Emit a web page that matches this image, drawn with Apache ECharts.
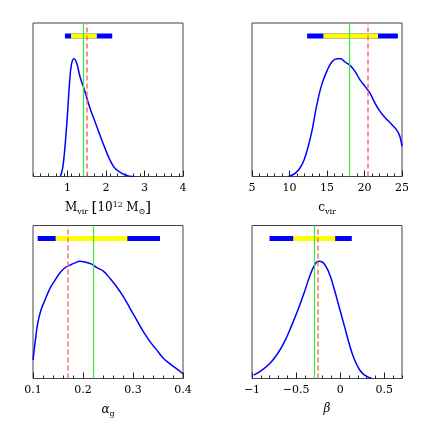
<!DOCTYPE html>
<html>
<head>
<meta charset="utf-8">
<script src="https://cdn.jsdelivr.net/npm/echarts@6/dist/echarts.min.js"></script>
<style>
  html, body { margin: 0; padding: 0; background: #fff; }
  #main { width: 425px; height: 425px; }
</style>
</head>
<body>
<div id="main"></div>
<script>
// M_vir posterior
const mvirX = [0.81, 0.86, 0.9, 0.95, 1.0, 1.05, 1.1, 1.166, 1.236, 1.32, 1.45, 1.58, 1.71, 1.84, 1.97, 2.10, 2.23, 2.41, 2.58, 2.73];
const mvirY = [0, 0.04, 0.11, 0.25, 0.42, 0.61, 0.73, 0.767, 0.739, 0.652, 0.554, 0.446, 0.359, 0.271, 0.185, 0.108, 0.054, 0.02, 0.004, 0];
const mvirOuter = [0.93, 2.16];
const mvirInner = [1.09, 1.76];
const mvirGreen = 1.41;
const mvirRed = 1.50;
const mvirTicks = [1, 2, 3, 4];

// c_vir posterior
const cvirX = [9.87, 10.76, 11.65, 12.31, 12.98, 13.64, 14.31, 14.97, 15.64, 16.3, 16.83, 17.4, 18.07, 18.74, 19.4, 20.07, 20.73, 21.4, 22.06, 22.73, 23.6, 24.28, 24.72, 25.0];
const cvirY = [0, 0.02, 0.076, 0.163, 0.294, 0.467, 0.6, 0.685, 0.746, 0.767, 0.767, 0.746, 0.724, 0.685, 0.63, 0.587, 0.543, 0.478, 0.424, 0.385, 0.341, 0.304, 0.261, 0.196];
const cvirOuter = [12.35, 24.45];
const cvirInner = [14.52, 21.8];
const cvirGreen = 18.03;
const cvirRed = 20.47;
const cvirTicks = [5, 10, 15, 20, 25];

// alpha_g posterior
const alphaX = [0.1, 0.104, 0.1094, 0.116, 0.124, 0.134, 0.144, 0.154, 0.164, 0.174, 0.184, 0.194, 0.204, 0.2173, 0.227, 0.2407, 0.254, 0.2673, 0.2807, 0.294, 0.3073, 0.3207, 0.334, 0.3473, 0.3607, 0.374, 0.3873, 0.4];
const alphaY = [0.122, 0.231, 0.361, 0.448, 0.513, 0.589, 0.643, 0.691, 0.724, 0.741, 0.756, 0.767, 0.761, 0.748, 0.726, 0.702, 0.654, 0.6, 0.535, 0.459, 0.383, 0.306, 0.241, 0.187, 0.133, 0.096, 0.063, 0.031];
const alphaOuter = [0.1093, 0.354];
const alphaInner = [0.1453, 0.2887];
const alphaGreen = 0.2173;
const alphaRed = 0.1653;
const alphaTicks = [0.1, 0.2, 0.3, 0.4];

// beta posterior
const betaX = [-0.98, -0.895, -0.801, -0.707, -0.631, -0.556, -0.48, -0.405, -0.348, -0.292, -0.246, -0.208, -0.159, -0.11, -0.065, -0.008, 0.049, 0.105, 0.162, 0.219, 0.275, 0.358];
const betaY = [0.022, 0.052, 0.096, 0.165, 0.241, 0.339, 0.448, 0.567, 0.665, 0.741, 0.767, 0.763, 0.73, 0.665, 0.578, 0.459, 0.339, 0.22, 0.122, 0.057, 0.022, 0];
const betaOuter = [-0.801, 0.131];
const betaInner = [-0.533, -0.057];
const betaGreen = -0.30;
const betaRed = -0.253;
const betaTicks = [-1, -0.5, 0, 0.5];

const BLUE = '#0000ff';
const YELLOW = '#ffff00';
const GREEN = '#33ee33';
const RED = '#ff6e6e';
const FONT = 'DejaVu Serif';
const barLevel = 0.915;

// minor ticks between min and max, every step
const minorOf = (lo, hi, step, majors) => {
  const out = [];
  const n = Math.round((hi - lo) / step);
  for (let i = 0; i <= n; i++) {
    const v = +(lo + i * step).toFixed(6);
    if (!majors.some((m) => Math.abs(m - v) < 1e-9)) out.push(v);
  }
  return out;
};

const subRich = {
  n: { fontFamily: FONT, fontSize: 12, color: '#000' },
  i: { fontFamily: FONT, fontSize: 12, fontStyle: 'italic', color: '#000' },
  sub: { fontFamily: FONT, fontSize: 8, color: '#000', padding: [7, 0, 0, 0] },
  sup: { fontFamily: FONT, fontSize: 8, color: '#000', padding: [0, 0, 7, 0] },
  br: { fontFamily: FONT, fontSize: 15, color: '#000' },
};

const panels = [
  { xs: mvirX, ys: mvirY, outer: mvirOuter, inner: mvirInner, green: mvirGreen, red: mvirRed,
    ticks: mvirTicks, min: 0.1, max: 4, minor: 0.2,
    name: '{n|M}{sub|vir} {br|[}{n|10}{sup|12} {n|M}{sub|⊙}{br|]}',
    left: 33, top: 23, height: 153.5 },
  { xs: cvirX, ys: cvirY, outer: cvirOuter, inner: cvirInner, green: cvirGreen, red: cvirRed,
    ticks: cvirTicks, min: 5, max: 25, minor: 1,
    name: '{n|c}{sub|vir}',
    left: 252, top: 23, height: 153.5 },
  { xs: alphaX, ys: alphaY, outer: alphaOuter, inner: alphaInner, green: alphaGreen, red: alphaRed,
    ticks: alphaTicks, min: 0.1, max: 0.4, minor: 0.02,
    name: '{i|α}{sub|g}',
    left: 33, top: 225.5, height: 153 },
  { xs: betaX, ys: betaY, outer: betaOuter, inner: betaInner, green: betaGreen, red: betaRed,
    ticks: betaTicks, min: -1, max: 0.7, minor: 0.1,
    name: '{i|β}',
    left: 252, top: 225.5, height: 153 },
];

const grid = [];
const xAxis = [];
const yAxis = [];
const series = [];

panels.forEach((p, i) => {
  grid.push({
    left: p.left, top: p.top, width: 150, height: p.height,
    show: true, borderColor: '#444', borderWidth: 1, backgroundColor: 'transparent',
  });
  // major ticks with labels
  xAxis.push({
    type: 'value', gridIndex: i, position: 'bottom', min: p.min, max: p.max,
    name: p.name, nameLocation: 'middle', nameGap: 24,
    nameTextStyle: { rich: subRich },
    axisLine: { show: false },
    splitLine: { show: false },
    axisTick: { show: true, inside: true, length: 6, customValues: p.ticks, lineStyle: { color: '#222', width: 1 } },
    axisLabel: {
      customValues: p.ticks, margin: 6, fontFamily: FONT, fontSize: 11, color: '#000',
      formatter: (v) => String(v).replace('-', '−'),
    },
  });
  // minor ticks
  xAxis.push({
    type: 'value', gridIndex: i, position: 'bottom', min: p.min, max: p.max,
    axisLine: { show: false },
    splitLine: { show: false },
    axisTick: { show: true, inside: true, length: 3, customValues: minorOf(p.min, p.max, p.minor, p.ticks), lineStyle: { color: '#222', width: 1 } },
    axisLabel: { show: false },
  });
  yAxis.push({ type: 'value', gridIndex: i, min: 0, max: 1, show: false });

  const xi = 2 * i;
  series.push({
    type: 'line', xAxisIndex: xi, yAxisIndex: i, symbol: 'none', silent: true, z: 2,
    lineStyle: { color: BLUE, width: 5, cap: 'butt' },
    data: [[p.outer[0], barLevel], [p.outer[1], barLevel]],
  });
  series.push({
    type: 'line', xAxisIndex: xi, yAxisIndex: i, symbol: 'none', silent: true, z: 3,
    lineStyle: { color: YELLOW, width: 5, cap: 'butt' },
    data: [[p.inner[0], barLevel], [p.inner[1], barLevel]],
  });
  series.push({
    type: 'line', xAxisIndex: xi, yAxisIndex: i, symbol: 'none', silent: true, z: 4,
    smooth: 0.4,
    lineStyle: { color: BLUE, width: 1.5 },
    data: p.xs.map((x, k) => [x, p.ys[k]]),
    markLine: {
      silent: true, symbol: 'none', animation: false,
      label: { show: false },
      data: [
        { xAxis: p.green, lineStyle: { color: GREEN, width: 1.2, type: 'solid' } },
        { xAxis: p.red, lineStyle: { color: RED, width: 1.5, type: [5, 3] } },
      ],
    },
  });
});

const myChart = echarts.init(document.getElementById('main'));
myChart.setOption({
  animation: false,
  backgroundColor: '#fff',
  grid,
  xAxis,
  yAxis,
  series,
});
</script>
</body>
</html>
